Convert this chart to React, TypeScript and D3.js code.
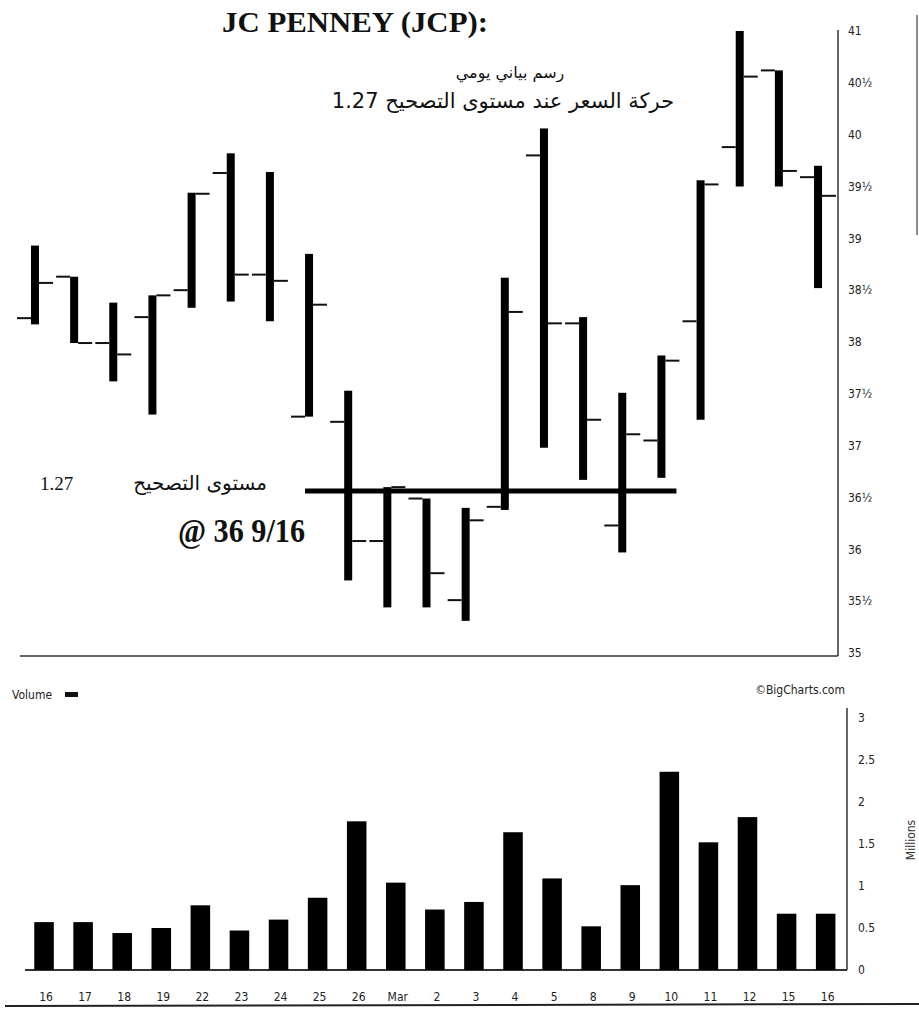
import * as d3 from "d3";

const dates = ["16", "17", "18", "19", "22", "23", "24", "25", "26", "Mar", "2", "3", "4", "5", "8", "9", "10", "11", "12", "15", "16"];
const opens = [38.23, 38.63, 37.99, 38.24, 38.5, 39.63, 38.65, 37.28, 37.23, 36.08, 36.49, 35.51, 36.41, 39.8, 38.18, 36.23, 37.05, 38.2, 39.88, 40.62, 39.59];
const highs = [38.93, 38.63, 38.38, 38.45, 39.44, 39.82, 39.64, 38.85, 37.53, 36.6, 36.49, 36.4, 38.62, 40.06, 38.24, 37.51, 37.87, 39.56, 41.0, 40.62, 39.7];
const lows = [38.17, 37.99, 37.62, 37.3, 38.33, 38.39, 38.2, 37.28, 35.7, 35.44, 35.44, 35.31, 36.38, 36.98, 36.67, 35.97, 36.69, 37.25, 39.5, 39.5, 38.52];
const closes = [38.57, 37.99, 37.88, 38.45, 39.43, 38.65, 38.59, 38.36, 36.08, 36.6, 35.77, 36.28, 38.29, 38.18, 37.25, 37.11, 37.82, 39.52, 40.56, 39.65, 39.41];
const volumes = [0.57, 0.57, 0.44, 0.5, 0.77, 0.47, 0.6, 0.86, 1.77, 1.04, 0.72, 0.81, 1.64, 1.09, 0.52, 1.01, 2.36, 1.52, 1.82, 0.67, 0.67];
const priceTicks = [35, 35.5, 36, 36.5, 37, 37.5, 38, 38.5, 39, 39.5, 40, 40.5, 41];
const volumeTicks = [0, 0.5, 1, 1.5, 2, 2.5, 3];
const supportLevel = 36.5625;

const axisFont = "'DejaVu Sans Condensed', 'Liberation Sans Narrow', 'DejaVu Sans', sans-serif";
const serif = "'Liberation Serif', 'DejaVu Serif', serif";
const arabic = "'DejaVu Sans', 'Noto Sans', sans-serif";

function fmtPrice(v: number): string {
  const whole = Math.floor(v);
  return v - whole > 0 ? `${whole}½` : `${whole}`;
}

export default function App() {
  const idx = dates.map((_, i) => i);

  const xPrice = d3.scaleBand<number>().domain(idx).range([15.4, 837.6]).paddingInner(0.5).paddingOuter(0.25);
  const xVol = d3.scaleBand<number>().domain(idx).range([24.5, 845.2]).paddingInner(0.5).paddingOuter(0.25);
  const y = d3.scaleLinear().domain([35, 41]).range([653, 31]);
  const yVol = d3.scaleLinear().domain([0, 3]).range([970, 718]);

  const pc = (i: number) => (xPrice(i) ?? 0) + xPrice.bandwidth() / 2;
  const vc = (i: number) => (xVol(i) ?? 0) + xVol.bandwidth() / 2;

  const half = 4;
  const tick = 14;

  return (
    <svg width={919} height={1011} style={{ position: "absolute", left: 0, top: 0, background: "#fff" }}>
      <rect x={0} y={0} width={919} height={1011} fill="#fff" />

      {/* titles */}
      <text x={222} y={32} fontFamily={serif} fontWeight="bold" fontSize={30} textLength={266} lengthAdjust="spacingAndGlyphs" fill="#111">
        JC PENNEY (JCP):
      </text>
      <text x={510} y={78} fontFamily={arabic} fontSize={16} textAnchor="middle" direction="rtl" fill="#111">
        رسم بياني يومي
      </text>
      <text x={503} y={108} fontFamily={arabic} fontSize={21} textAnchor="middle" direction="rtl" fill="#111">
        حركة السعر عند مستوى التصحيح 1.27
      </text>

      {/* price panel */}
      <line x1={838} x2={838} y1={30} y2={656} stroke="#333" strokeWidth={1.5} />
      <line x1={20} x2={838} y1={656} y2={656} stroke="#333" strokeWidth={1.5} />
      <line x1={917} x2={917} y1={15} y2={235} stroke="#666" strokeWidth={1.5} />
      {priceTicks.map((t) => (
        <text key={t} x={848} y={y(t)} dy="0.35em" fontFamily={axisFont} fontSize={12} fill="#222">
          {fmtPrice(t)}
        </text>
      ))}

      {idx.map((i) => {
        const cx = pc(i);
        return (
          <g key={i}>
            <rect x={cx - half} y={y(highs[i])} width={half * 2} height={y(lows[i]) - y(highs[i])} fill="#000" />
            <line x1={cx - half - tick} x2={cx - half} y1={y(opens[i])} y2={y(opens[i])} stroke="#111" strokeWidth={2} />
            <line x1={cx + half} x2={cx + half + tick} y1={y(closes[i])} y2={y(closes[i])} stroke="#111" strokeWidth={2} />
          </g>
        );
      })}

      <line x1={pc(7) - half} x2={pc(16) + 15} y1={y(supportLevel)} y2={y(supportLevel)} stroke="#000" strokeWidth={5} />

      <text x={40} y={490} fontFamily={serif} fontSize={19} fill="#111">1.27</text>
      <text x={267} y={490} fontFamily={arabic} fontSize={20} textAnchor="end" fill="#111">
        مستوى التصحيح
      </text>
      <text x={178} y={542} fontFamily={serif} fontWeight="bold" fontSize={34} textLength={127} lengthAdjust="spacingAndGlyphs" fill="#111">
        @ 36 9/16
      </text>

      {/* volume panel */}
      <text x={12} y={699} fontFamily={axisFont} fontSize={12} fill="#222">Volume</text>
      <rect x={65} y={692} width={13} height={5} fill="#111" />
      <text x={845} y={694} fontFamily={axisFont} fontSize={12} textAnchor="end" fill="#222">©BigCharts.com</text>

      <line x1={847} x2={847} y1={708} y2={970} stroke="#333" strokeWidth={1.5} />
      <line x1={25} x2={847} y1={970} y2={970} stroke="#333" strokeWidth={2} />
      {volumeTicks.map((t) => (
        <text key={t} x={858} y={yVol(t)} dy="0.35em" fontFamily={axisFont} fontSize={12} fill="#222">
          {t}
        </text>
      ))}
      <text transform="translate(915,840) rotate(-90)" textAnchor="middle" fontFamily={axisFont} fontSize={12} fill="#333">
        Millions
      </text>

      {idx.map((i) => (
        <rect key={i} x={xVol(i)} y={yVol(volumes[i])} width={xVol.bandwidth()} height={yVol(0) - yVol(volumes[i])} fill="#000" />
      ))}
      {idx.map((i) => (
        <text key={i} x={vc(i) + 2} y={1001} textAnchor="middle" fontFamily={axisFont} fontSize={12} fill="#222">
          {dates[i]}
        </text>
      ))}
      <line x1={5} x2={919} y1={1006} y2={1004} stroke="#222" strokeWidth={2} />
    </svg>
  );
}
